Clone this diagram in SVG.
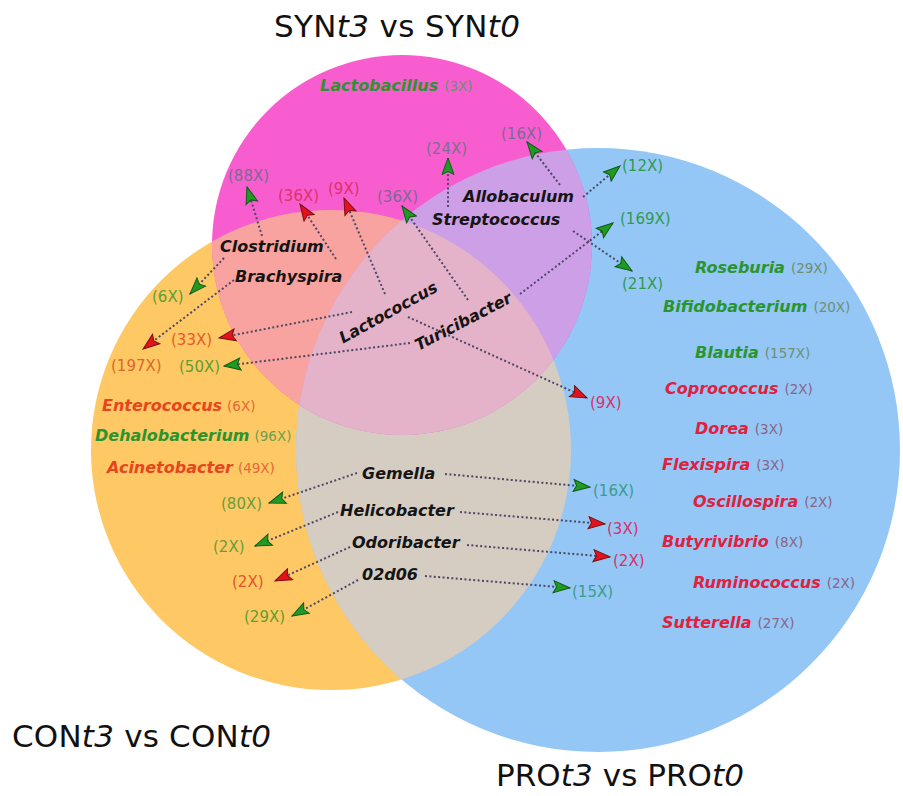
<svg xmlns="http://www.w3.org/2000/svg" width="903" height="796" viewBox="0 0 903 796">
<style>
.title{font-family:"DejaVu Sans",Verdana,sans-serif;font-size:31px;fill:#111}
.g{font-family:"DejaVu Sans",Verdana,sans-serif;font-size:16px;font-weight:bold;font-style:italic}
.blk{fill:#151515}
.grn{fill:#2a952e}
.red{fill:#e0203f}
.ored{fill:#e8451c}
.cnt{font-family:"DejaVu Sans",Verdana,sans-serif;font-size:13.5px;font-weight:normal;font-style:normal}
.lab{font-family:"DejaVu Sans",Verdana,sans-serif;font-size:15px}
.cg{fill:#6e8f74}
.cr{fill:#8a6585}
.cl{fill:#6f9f4a}
.co{fill:#e46838}
.conn{fill:none;stroke:#4d4866;stroke-width:2;stroke-dasharray:2 2.4}
</style>
<defs>
<clipPath id="cO"><circle cx="331" cy="450" r="240"/></clipPath>
<clipPath id="cB"><circle cx="598" cy="450" r="302"/></clipPath>
<marker id="ag" markerUnits="userSpaceOnUse" viewBox="0 0 19 14" markerWidth="19" markerHeight="14" refX="17.5" refY="7" orient="auto">
<path d="M1,1 L17.5,7 L1,13 L4,7 Z" fill="#1f9a22" stroke="#135a16" stroke-width="1"/>
</marker>
<marker id="ar" markerUnits="userSpaceOnUse" viewBox="0 0 19 14" markerWidth="19" markerHeight="14" refX="17.5" refY="7" orient="auto">
<path d="M1,1 L17.5,7 L1,13 L4,7 Z" fill="#e3121c" stroke="#7a1010" stroke-width="1"/>
</marker>
</defs>

<g id="venn">
<circle cx="331" cy="450" r="240" fill="#fec865"/>
<circle cx="598" cy="450" r="302" fill="#94c6f6"/>
<circle cx="598" cy="450" r="302" fill="#d6cdc2" clip-path="url(#cO)"/>
<circle cx="402" cy="245" r="190" fill="#f75dcf"/>
<circle cx="402" cy="245" r="190" fill="#f8a3a0" clip-path="url(#cO)"/>
<circle cx="402" cy="245" r="190" fill="#cc9fe6" clip-path="url(#cB)"/>
<g clip-path="url(#cB)"><circle cx="402" cy="245" r="190" fill="#e4b2c9" clip-path="url(#cO)"/></g>
</g>

<g id="titles">
<text class="title" x="274" y="37" textLength="246">SYN<tspan font-style="italic">t3</tspan> vs SYN<tspan font-style="italic">t0</tspan></text>
<text class="title" x="12" y="747" textLength="259">CON<tspan font-style="italic">t3</tspan> vs CON<tspan font-style="italic">t0</tspan></text>
<text class="title" x="496" y="786" textLength="248">PRO<tspan font-style="italic">t3</tspan> vs PRO<tspan font-style="italic">t0</tspan></text>
</g>

<g id="connectors">
<line class="conn" x1="262" y1="236" x2="247" y2="187" marker-end="url(#ag)"/>
<line class="conn" x1="224" y1="258" x2="190" y2="294" marker-end="url(#ag)"/>
<line class="conn" x1="336" y1="259" x2="300" y2="204" marker-end="url(#ar)"/>
<line class="conn" x1="234" y1="280" x2="143" y2="349" marker-end="url(#ar)"/>
<line class="conn" x1="385" y1="294" x2="344" y2="198" marker-end="url(#ar)"/>
<line class="conn" x1="352" y1="312" x2="219" y2="338" marker-end="url(#ar)"/>
<line class="conn" x1="408" y1="317" x2="587" y2="398" marker-end="url(#ar)"/>
<line class="conn" x1="468" y1="300" x2="402" y2="206" marker-end="url(#ag)"/>
<line class="conn" x1="410" y1="343" x2="224" y2="366" marker-end="url(#ag)"/>
<line class="conn" x1="520" y1="294" x2="613" y2="223" marker-end="url(#ag)"/>
<line class="conn" x1="448" y1="207" x2="448" y2="158" marker-end="url(#ag)"/>
<line class="conn" x1="560" y1="185" x2="527" y2="142" marker-end="url(#ag)"/>
<line class="conn" x1="583" y1="197" x2="620" y2="166" marker-end="url(#ag)"/>
<line class="conn" x1="573" y1="231" x2="632" y2="271" marker-end="url(#ag)"/>
<line class="conn" x1="357" y1="473" x2="269" y2="503" marker-end="url(#ag)"/>
<line class="conn" x1="445" y1="474" x2="590" y2="487" marker-end="url(#ag)"/>
<line class="conn" x1="338" y1="512" x2="255" y2="546" marker-end="url(#ag)"/>
<line class="conn" x1="460" y1="512" x2="605" y2="524" marker-end="url(#ar)"/>
<line class="conn" x1="350" y1="547" x2="275" y2="581" marker-end="url(#ar)"/>
<line class="conn" x1="467" y1="545" x2="610" y2="557" marker-end="url(#ar)"/>
<line class="conn" x1="358" y1="580" x2="292" y2="616" marker-end="url(#ag)"/>
<line class="conn" x1="425" y1="576" x2="570" y2="588" marker-end="url(#ag)"/>
</g>

<g id="connector-labels">
<text class="lab" x="228" y="181" fill="#7d6a92">(88X)</text>
<text class="lab" x="278" y="201" fill="#e0306a">(36X)</text>
<text class="lab" x="328" y="194" fill="#e0306a">(9X)</text>
<text class="lab" x="377" y="202" fill="#7d6a92">(36X)</text>
<text class="lab" x="426" y="154" fill="#7d6f8e">(24X)</text>
<text class="lab" x="501" y="139" fill="#7d6a92">(16X)</text>
<text class="lab" x="622" y="171" fill="#2f9a52">(12X)</text>
<text class="lab" x="620" y="224" fill="#2f9a52">(169X)</text>
<text class="lab" x="622" y="289" fill="#2f9a52">(21X)</text>
<text class="lab" x="152" y="302" fill="#5f9e2e">(6X)</text>
<text class="lab" x="171" y="345" fill="#e85a2a">(33X)</text>
<text class="lab" x="111" y="371" fill="#e0662a">(197X)</text>
<text class="lab" x="179" y="372" fill="#5f9e2e">(50X)</text>
<text class="lab" x="590" y="408" fill="#d8306a">(9X)</text>
<text class="lab" x="221" y="509" fill="#6a9e3a">(80X)</text>
<text class="lab" x="593" y="496" fill="#3a9e88">(16X)</text>
<text class="lab" x="213" y="552" fill="#6a9e3a">(2X)</text>
<text class="lab" x="607" y="534" fill="#d8306a">(3X)</text>
<text class="lab" x="232" y="587" fill="#e0552a">(2X)</text>
<text class="lab" x="613" y="566" fill="#d8306a">(2X)</text>
<text class="lab" x="244" y="622" fill="#5f9e2e">(29X)</text>
<text class="lab" x="572" y="597" fill="#3a9e88">(15X)</text>
</g>

<g id="node-lactobacillus"><text class="g grn" x="320" y="91">Lactobacillus<tspan class="cnt cg" dx="6">(3X)</tspan></text></g>
<g id="node-clostridium"><text class="g blk" x="220" y="252">Clostridium</text></g>
<g id="node-brachyspira"><text class="g blk" x="235" y="282">Brachyspira</text></g>
<g id="node-lactococcus"><text class="g blk" transform="translate(388,312) rotate(-29)" x="0" y="6" text-anchor="middle">Lactococcus</text></g>
<g id="node-turicibacter"><text class="g blk" transform="translate(463,321) rotate(-27.5)" x="0" y="6" text-anchor="middle">Turicibacter</text></g>
<g id="node-allobaculum"><text class="g blk" x="463" y="202">Allobaculum</text></g>
<g id="node-streptococcus"><text class="g blk" x="432" y="225">Streptococcus</text></g>
<g id="node-gemella"><text class="g blk" x="362" y="479">Gemella</text></g>
<g id="node-helicobacter"><text class="g blk" x="340" y="516">Helicobacter</text></g>
<g id="node-odoribacter"><text class="g blk" x="352" y="548">Odoribacter</text></g>
<g id="node-02d06"><text class="g blk" x="362" y="580">02d06</text></g>

<g id="node-enterococcus"><text class="g ored" x="102" y="411">Enterococcus<tspan class="cnt co" dx="5">(6X)</tspan></text></g>
<g id="node-dehalobacterium"><text class="g grn" x="95" y="441">Dehalobacterium<tspan class="cnt cl" dx="5">(96X)</tspan></text></g>
<g id="node-acinetobacter"><text class="g ored" x="107" y="473">Acinetobacter<tspan class="cnt co" dx="5">(49X)</tspan></text></g>

<g id="node-roseburia"><text class="g grn" x="695" y="273">Roseburia<tspan class="cnt cg" dx="6">(29X)</tspan></text></g>
<g id="node-bifidobacterium"><text class="g grn" x="663" y="312">Bifidobacterium<tspan class="cnt cg" dx="6">(20X)</tspan></text></g>
<g id="node-blautia"><text class="g grn" x="695" y="358">Blautia<tspan class="cnt cg" dx="6">(157X)</tspan></text></g>
<g id="node-coprococcus"><text class="g red" x="665" y="394">Coprococcus<tspan class="cnt cr" dx="6">(2X)</tspan></text></g>
<g id="node-dorea"><text class="g red" x="695" y="434">Dorea<tspan class="cnt cr" dx="6">(3X)</tspan></text></g>
<g id="node-flexispira"><text class="g red" x="662" y="470">Flexispira<tspan class="cnt cr" dx="6">(3X)</tspan></text></g>
<g id="node-oscillospira"><text class="g red" x="693" y="507">Oscillospira<tspan class="cnt cr" dx="6">(2X)</tspan></text></g>
<g id="node-butyrivibrio"><text class="g red" x="662" y="547">Butyrivibrio<tspan class="cnt cr" dx="6">(8X)</tspan></text></g>
<g id="node-ruminococcus"><text class="g red" x="693" y="588">Ruminococcus<tspan class="cnt cr" dx="6">(2X)</tspan></text></g>
<g id="node-sutterella"><text class="g red" x="662" y="628">Sutterella<tspan class="cnt cr" dx="6">(27X)</tspan></text></g>
</svg>
